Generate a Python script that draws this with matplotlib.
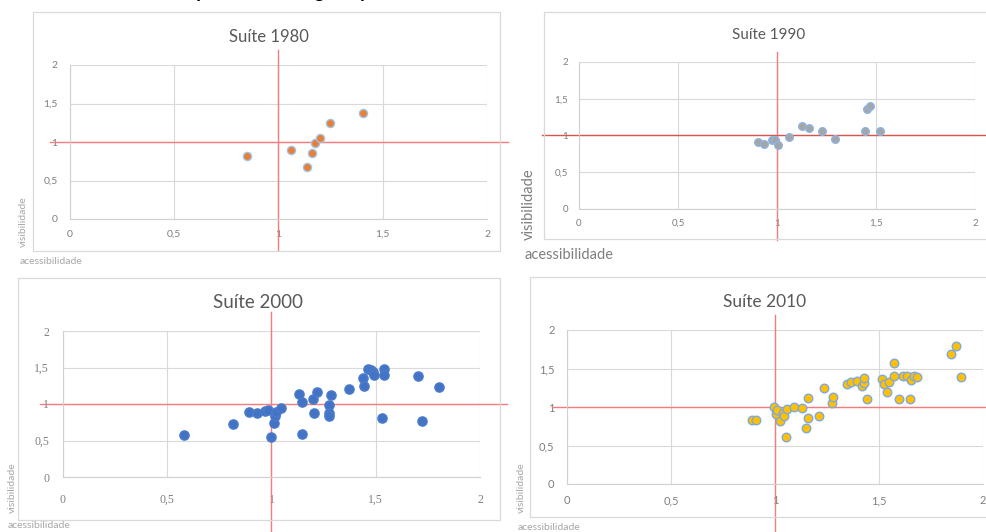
import numpy as np
import matplotlib
matplotlib.use("Agg")
import matplotlib.pyplot as plt
from matplotlib.patches import Rectangle

# data (acessibilidade, visibilidade)
x1980 = [0.847, 1.059, 1.139, 1.161, 1.176, 1.200, 1.248, 1.403]
y1980 = [0.823, 0.892, 0.680, 0.857, 0.987, 1.056, 1.251, 1.372]

x1990 = [0.902, 0.936, 0.975, 0.992, 1.003, 1.062, 1.126, 1.162, 1.229, 1.291,
         1.443, 1.455, 1.468, 1.520]
y1990 = [0.909, 0.882, 0.937, 0.937, 0.864, 0.986, 1.127, 1.104, 1.068, 0.955,
         1.068, 1.362, 1.398, 1.059]

x2000 = [0.578, 0.814, 0.890, 0.931, 0.971, 0.984, 1.000, 1.011, 1.018, 1.021,
         1.045, 1.131, 1.147, 1.147, 1.198, 1.205, 1.216, 1.278, 1.278, 1.278,
         1.283, 1.373, 1.440, 1.442, 1.464, 1.477, 1.485, 1.491, 1.530, 1.538,
         1.539, 1.702, 1.723, 1.802]
y2000 = [0.580, 0.721, 0.890, 0.877, 0.909, 0.918, 0.548, 0.735, 0.836, 0.886,
         0.941, 1.142, 1.023, 0.584, 1.064, 0.877, 1.160, 0.991, 0.877, 0.836,
         1.128, 1.210, 1.356, 1.242, 1.479, 1.461, 1.438, 1.397, 0.804, 1.479,
         1.402, 1.379, 0.767, 1.237]

x2010 = [0.891, 0.907, 0.997, 1.005, 1.008, 1.024, 1.037, 1.045, 1.053, 1.059,
         1.091, 1.130, 1.147, 1.158, 1.158, 1.213, 1.237, 1.274, 1.280, 1.344,
         1.366, 1.395, 1.416, 1.426, 1.430, 1.442, 1.515, 1.522, 1.539, 1.549,
         1.570, 1.571, 1.594, 1.613, 1.634, 1.650, 1.656, 1.670, 1.683, 1.845,
         1.872, 1.894]
y2010 = [0.829, 0.829, 0.998, 0.911, 0.963, 0.821, 0.920, 0.886, 0.605, 0.972,
         0.998, 0.981, 0.726, 0.851, 1.123, 0.877, 1.244, 1.058, 1.127, 1.296,
         1.330, 1.343, 1.279, 1.309, 1.378, 1.106, 1.365, 1.305, 1.201, 1.330,
         1.572, 1.400, 1.102, 1.400, 1.404, 1.102, 1.356, 1.400, 1.387, 1.689,
         1.793, 1.395]

titles = ["Suíte 1980", "Suíte 1990", "Suíte 2000", "Suíte 2010"]
ticks = [0, 0.5, 1, 1.5, 2]
tick_labels = ["0", "0,5", "1", "1,5", "2"]

W, H = 987, 532
plt.rcParams['font.family'] = ['Lato', 'DejaVu Sans']
fig = plt.figure(figsize=(W / 100, H / 100), dpi=100)


def fx(px):
    return px / W


def fy(py):
    return 1 - py / H


# pixel layout for each panel
panels = [
    dict(x=x1980, y=y1980, title=titles[0], ax=(70, 487, 65, 219), frame=(33, 500, 12, 251),
         tpos=(269, 37), tsize=12, vline=(50, 250), hline=(50, 508), hcol='#F47C7C',
         face='#ED7D31', edge='#9DC3E6', s=34, vis=(23, 222), acc=(20, 262), lsize=7.5,
         lcol='#A6A6A6', tick=7.5, tfont=None, xpad=8, ypad=9),
    dict(x=x1990, y=y1990, title=titles[1], ax=(579, 975, 62, 209), frame=(544, 992, 12, 239),
         tpos=(769, 35), tsize=11, vline=(52, 240), hline=(542, 987), hcol='#D9534F',
         face='#A5A5A5', edge='#8FB4E3', s=30, vis=(529, 204), acc=(525, 255), lsize=10.5,
         lcol='#7F7F7F', tick=7, tfont=None, xpad=7, ypad=8),
    dict(x=x2000, y=y2000, title=titles[2], ax=(63, 480, 331, 477), frame=(18, 500, 278, 520),
         tpos=(258, 302), tsize=13.5, vline=(312, 540), hline=(40, 507), hcol='#F47C7C',
         face='#4472C4', edge='#4A7CCB', s=44, vis=(12, 488), acc=(8, 526), lsize=7.5,
         lcol='#A6A6A6', tick=8.5, tfont='Liberation Serif', xpad=12, ypad=10),
    dict(x=x2010, y=y2010, title=titles[3], ax=(567, 983, 330, 484), frame=(530, 992, 277, 517),
         tpos=(765, 302), tsize=12.5, vline=(315, 540), hline=(552, 987), hcol='#F47C7C',
         face='#FFC000', edge='#7FA9DD', s=38, vis=(521, 488), acc=(518, 527), lsize=7.5,
         lcol='#A6A6A6', tick=8, tfont=None, xpad=8, ypad=9),
]

for p in panels:
    l, r, t, b = p['ax']
    fl, fr, ft, fb = p['frame']
    fig.patches.append(Rectangle((fx(fl), fy(fb)), (fr - fl) / W, (fb - ft) / H,
                                 transform=fig.transFigure, fill=False,
                                 edgecolor='#D9D9D9', lw=0.9, zorder=0))
    ax = fig.add_axes([fx(l), fy(b), (r - l) / W, (b - t) / H])
    ax.set_facecolor('none')
    ax.set_xlim(0, 2)
    ax.set_ylim(0, 2)
    ax.set_xticks(ticks)
    ax.set_yticks(ticks)
    kw = {}
    if p['tfont']:
        kw['family'] = p['tfont']
    ax.set_xticklabels(tick_labels, fontsize=p['tick'], color='#7F7F7F', **kw)
    ax.set_yticklabels(tick_labels, fontsize=p['tick'], color='#7F7F7F', **kw)
    ax.tick_params(length=0)
    ax.tick_params(axis='x', pad=p['xpad'])
    ax.tick_params(axis='y', pad=p['ypad'])
    ax.grid(True, color='#D9D9D9', lw=0.8)
    ax.set_axisbelow(True)
    for side in ['top', 'right']:
        ax.spines[side].set_visible(False)
    for side in ['left', 'bottom']:
        ax.spines[side].set_color('#D0D0D0')
        ax.spines[side].set_linewidth(0.8)

    ax.scatter(p['x'], p['y'], s=p['s'], c=p['face'], edgecolors=p['edge'],
               linewidths=1.0, zorder=3)

    # reference lines at 1 extending beyond the plot area
    hpx = b - t
    wpx = r - l
    ax.axvline(1, ymin=(b - p['vline'][1]) / hpx, ymax=(b - p['vline'][0]) / hpx,
               color='#F47C7C', lw=1, clip_on=False, zorder=2)
    ax.axhline(1, xmin=(p['hline'][0] - l) / wpx, xmax=(p['hline'][1] - l) / wpx,
               color=p['hcol'], lw=1, clip_on=False, zorder=2)

    fig.text(fx(p['tpos'][0]), fy(p['tpos'][1]), p['title'], ha='center', va='center',
             fontsize=p['tsize'], color='#595959')
    fig.text(fx(p['vis'][0]), fy(p['vis'][1]), 'visibilidade', rotation=90,
             ha='center', va='center', fontsize=p['lsize'], color=p['lcol'])
    fig.text(fx(p['acc'][0]), fy(p['acc'][1]), 'acessibilidade', ha='left', va='center',
             fontsize=p['lsize'], color=p['lcol'])

# heading cut off at the top of the image, only descenders show (as in the reference)
fig.text(fx(169), fy(-2), 'Mapa de acessos geral por suíte', ha='left',
         va='baseline', fontsize=13.5, fontweight='bold', color='black')

fig.savefig('out.png', dpi=100)
